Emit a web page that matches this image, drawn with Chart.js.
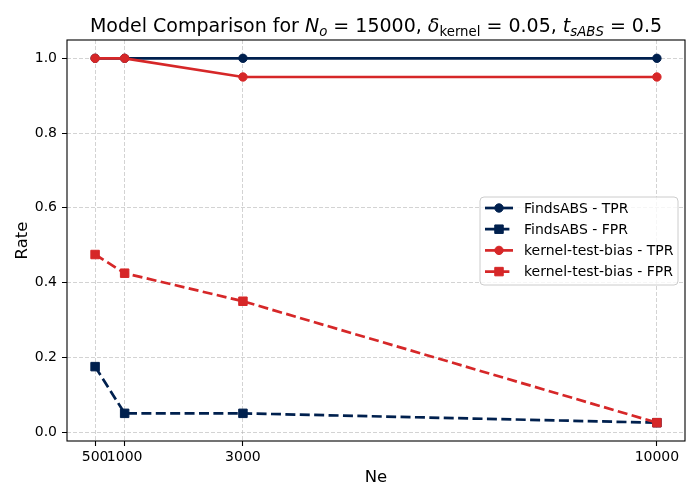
<!DOCTYPE html>
<html>
<head>
<meta charset="utf-8">
<script src="https://cdn.jsdelivr.net/npm/chart.js@4"></script>
<style>
  html, body { margin: 0; padding: 0; background: #fff; }
  #wrap { position: relative; width: 700px; height: 500px; }
  #title {
    position: absolute; left: 67px; width: 618px; top: 16px;
    text-align: center; font-family: "DejaVu Sans", sans-serif; font-size: 19px;
    line-height: 1; color: #000; white-space: nowrap;
  }
  #title i { font-style: oblique; }
  #title sub { font-size: 0.7em; vertical-align: -0.3em; line-height: 0; }
</style>
</head>
<body>
<div id="wrap">
  <canvas id="chart" width="700" height="500"></canvas>
  <div id="title">Model Comparison for <i>N</i><sub><i>o</i></sub> = 15000, <i>δ</i><sub>kernel</sub> = 0.05, <i>t</i><sub><i>sABS</i></sub> = 0.5</div>
</div>
<script>
const neValues = [500, 1000, 3000, 10000];
const findsTPR = [1.0, 1.0, 1.0, 1.0];
const findsFPR = [0.175, 0.05, 0.05, 0.025];
const kernelTPR = [1.0, 1.0, 0.95, 0.95];
const kernelFPR = [0.475, 0.425, 0.35, 0.025];
const xTicks = [500, 1000, 3000, 10000];
const yTicks = [0.0, 0.2, 0.4, 0.6, 0.8, 1.0];
const seriesNames = ['FindsABS - TPR', 'FindsABS - FPR', 'kernel-test-bias - TPR', 'kernel-test-bias - FPR'];

const NAVY = '#00204e';
const RED = '#d62728';
const FONT = '"DejaVu Sans", sans-serif';
const DASH = [10, 4.4];

const pts = ys => neValues.map((x, i) => ({ x, y: ys[i] }));

function series(label, ys, color, dashed, marker, order) {
  return {
    label, data: pts(ys), order,
    borderColor: color, backgroundColor: color,
    borderWidth: 2.7, borderDash: dashed ? DASH : [],
    pointStyle: marker, pointRadius: marker === 'rect' ? 6 : 4.2,
    pointBorderWidth: 1, pointBorderColor: color, pointBackgroundColor: color,
    fill: false, tension: 0
  };
}

const datasets = [
  series(seriesNames[0], findsTPR, NAVY, false, 'circle', 4),
  series(seriesNames[1], findsFPR, NAVY, true, 'rect', 3),
  series(seriesNames[2], kernelTPR, RED, false, 'circle', 2),
  series(seriesNames[3], kernelFPR, RED, true, 'rect', 1)
];

// axes frame + matplotlib-style legend box
const framePlugin = {
  id: 'frame',
  afterDraw(chart) {
    const { ctx, chartArea: a } = chart;
    ctx.save();
    ctx.strokeStyle = '#000';
    ctx.lineWidth = 1.1;
    ctx.setLineDash([]);
    ctx.strokeRect(a.left, a.top, a.right - a.left, a.bottom - a.top);

    // legend
    const bx = 480, by = 197, bw = 198, bh = 88, r = 4;
    ctx.beginPath();
    ctx.moveTo(bx + r, by);
    ctx.arcTo(bx + bw, by, bx + bw, by + bh, r);
    ctx.arcTo(bx + bw, by + bh, bx, by + bh, r);
    ctx.arcTo(bx, by + bh, bx, by, r);
    ctx.arcTo(bx, by, bx + bw, by, r);
    ctx.closePath();
    ctx.fillStyle = 'rgba(255,255,255,0.8)';
    ctx.fill();
    ctx.strokeStyle = '#cccccc';
    ctx.lineWidth = 1;
    ctx.stroke();

    chart.data.datasets.forEach((ds, i) => {
      const y = 208 + i * 21.2;
      ctx.strokeStyle = ds.borderColor;
      ctx.lineWidth = ds.borderWidth;
      ctx.setLineDash(ds.borderDash);
      ctx.beginPath();
      ctx.moveTo(485, y);
      ctx.lineTo(513, y);
      ctx.stroke();
      ctx.setLineDash([]);
      ctx.fillStyle = ds.pointBackgroundColor;
      ctx.lineWidth = 1;
      Chart.helpers.drawPoint(ctx, { pointStyle: ds.pointStyle, radius: ds.pointRadius, borderWidth: 1 }, 499, y);
      ctx.fillStyle = '#000';
      ctx.font = '14px ' + FONT;
      ctx.textBaseline = 'middle';
      ctx.textAlign = 'left';
      ctx.fillText(ds.label, 524, y + 1);
    });
    ctx.restore();
  }
};

const gridOpts = {
  color: 'rgba(176,176,176,0.7)', lineWidth: 0.8,
  tickColor: '#000', tickLength: 5, tickWidth: 1.1, tickBorderDash: [1, 0]
};

new Chart(document.getElementById('chart'), {
  type: 'line',
  data: { datasets },
  plugins: [framePlugin],
  options: {
    responsive: false, animation: false,
    layout: { padding: { top: 40, right: 15, left: 0, bottom: 0 } },
    plugins: { legend: { display: false }, tooltip: { enabled: false }, title: { display: false } },
    scales: {
      x: {
        type: 'linear', min: 25, max: 10475,
        afterBuildTicks: s => { s.ticks = xTicks.map(v => ({ value: v })); },
        afterFit: s => { s.height = 59; },
        grid: gridOpts,
        border: { display: false, dash: [4, 2] },
        ticks: { autoSkip: false, maxRotation: 0, padding: 3, color: '#000', font: { family: FONT, size: 14 }, callback: v => String(v) },
        title: { display: true, text: 'Ne', color: '#000', font: { family: FONT, size: 16.5 }, padding: { top: 2, bottom: 12 } }
      },
      y: {
        type: 'linear', min: -0.024, max: 1.049,
        afterBuildTicks: s => { s.ticks = yTicks.map(v => ({ value: v })); },
        afterFit: s => { s.width = 67; },
        grid: gridOpts,
        border: { display: false, dash: [4, 2] },
        ticks: { padding: 5, color: '#000', font: { family: FONT, size: 14 }, callback: v => v.toFixed(1) },
        title: { display: true, text: 'Rate', color: '#000', font: { family: FONT, size: 16.5 }, padding: { top: 13, bottom: 0 } }
      }
    }
  }
});
</script>
</body>
</html>
